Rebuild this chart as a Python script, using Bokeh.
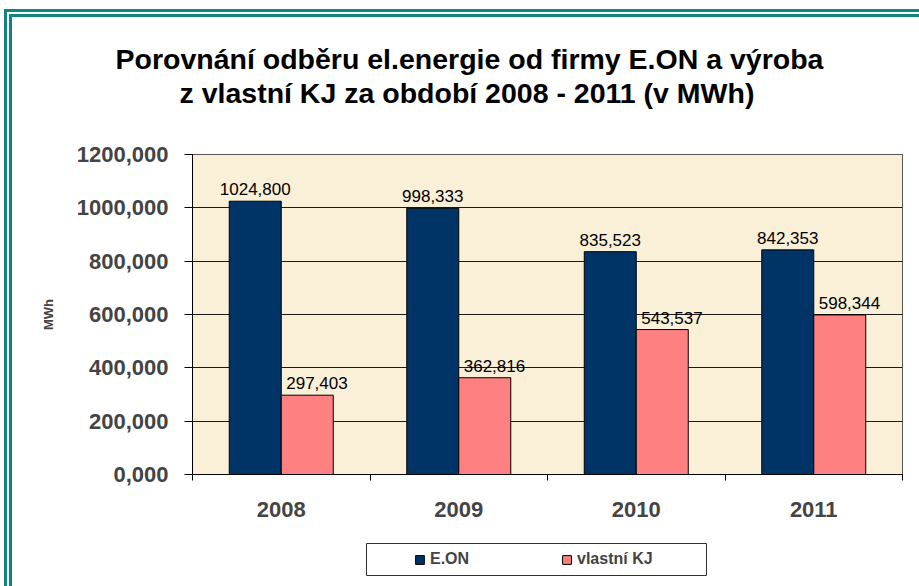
from bokeh.plotting import figure
from bokeh.layouts import column
from bokeh.models import (ColumnDataSource, FixedTicker, LabelSet, Legend,
                          LegendItem, Title)
from bokeh.core.properties import value
from bokeh.transform import dodge
from bokeh.embed import file_html
from bokeh.resources import INLINE

# ---------------- data ----------------
YEARS = ["2008", "2009", "2010", "2011"]
EON = [1024.800, 998.333, 835.523, 842.353]
KJ = [297.403, 362.816, 543.537, 598.344]
SERIES_NAMES = ["E.ON", "vlastní KJ"]
Y_TICKS = [0, 200, 400, 600, 800, 1000, 1200]
Y_TICK_LABELS = ["0,000", "200,000", "400,000", "600,000", "800,000", "1000,000", "1200,000"]
TITLE_LINES = ["Porovnání odběru el.energie od firmy E.ON a výroba",
               "z vlastní KJ za období 2008 - 2011 (v MWh)"]
Y_LABEL = "MWh"

# ---------------- style / layout ----------------
FONT = "Liberation Sans"
C_EON = "#003366"
C_KJ = "#FF8080"
BG = "#FAEFD7"
TEAL = "#0F8482"

W, H = 919, 530                            # main chart canvas
FL, FR, FT, FB = 192, 902, 154, 474        # frame edges in canvas px
LH = 56                                    # legend strip height
n = len(YEARS)
Y_MAX = Y_TICKS[-1]
PX_X = (FR - FL) / n                        # px per category
BAR_W = 52 / PX_X


def fmt(v):
    return f"{v:.3f}".replace(".", ",")


p = figure(width=W, height=H, x_range=(0, n), y_range=(0, Y_MAX),
           output_backend="svg", toolbar_location=None, title=None,
           min_border_left=FL, min_border_right=W - FR,
           min_border_top=FT, min_border_bottom=H - FB,
           background_fill_color=BG, border_fill_alpha=0)
p.outline_line_color = "#555555"

xs = [i + 0.5 for i in range(n)]
src = ColumnDataSource(dict(x=xs, eon=EON, kj=KJ,
                            eon_lbl=[fmt(v) for v in EON],
                            kj_lbl=[fmt(v) for v in KJ]))

BAR_STYLE = [dict(fill_color=C_EON, line_color="black", line_width=1),
             dict(fill_color=C_KJ, line_color="black", line_width=1)]

r1 = p.vbar(x=dodge("x", -BAR_W / 2), top="eon", width=BAR_W, source=src, **BAR_STYLE[0])
r2 = p.vbar(x=dodge("x", BAR_W / 2), top="kj", width=BAR_W, source=src, **BAR_STYLE[1])

p.add_layout(LabelSet(x=dodge("x", -BAR_W / 2), y="eon", text="eon_lbl", source=src,
                      text_align="center", text_baseline="bottom", y_offset=6,
                      text_font=value(FONT), text_font_size="17px", text_color="black"))
p.add_layout(LabelSet(x="x", y="kj", text="kj_lbl", source=src,
                      text_align="left", text_baseline="bottom", x_offset=5, y_offset=6,
                      text_font=value(FONT), text_font_size="17px", text_color="black"))

# axes
p.yaxis.ticker = FixedTicker(ticks=Y_TICKS, minor_ticks=[])
p.yaxis.major_label_overrides = {t: l for t, l in zip(Y_TICKS, Y_TICK_LABELS)}
p.yaxis.major_tick_out = 8
p.yaxis.major_tick_in = 0
p.yaxis.major_label_standoff = 16
p.yaxis.major_label_text_font = FONT
p.yaxis.major_label_text_font_style = "bold"
p.yaxis.major_label_text_font_size = "22px"
p.yaxis.axis_line_color = "black"
p.yaxis.major_tick_line_color = "black"
p.yaxis.axis_label = Y_LABEL
p.yaxis.axis_label_text_font = FONT
p.yaxis.axis_label_text_font_style = "bold"
p.yaxis.axis_label_text_font_size = "13px"
p.yaxis.axis_label_standoff = 18

p.xaxis.ticker = FixedTicker(ticks=xs, minor_ticks=list(range(n + 1)))
p.xaxis.major_label_overrides = {x: y for x, y in zip(xs, YEARS)}
p.xaxis.major_tick_out = 0
p.xaxis.major_tick_in = 0
p.xaxis.minor_tick_out = 6
p.xaxis.minor_tick_in = 0
p.xaxis.minor_tick_line_color = "black"
p.xaxis.major_label_standoff = 21
p.xaxis.major_label_text_font = FONT
p.xaxis.major_label_text_font_style = "bold"
p.xaxis.major_label_text_font_size = "22px"
p.xaxis.axis_line_color = "black"

p.xgrid.visible = False
p.ygrid.ticker = FixedTicker(ticks=Y_TICKS, minor_ticks=[])
p.ygrid.grid_line_color = "#1a1a1a"
p.ygrid.grid_line_width = 1

# title lines (the one added first sits closest to the frame);
# the first entry is a blank spacer that keeps the title away from the frame
p.add_layout(Title(text=" ", standoff=0, text_font=FONT, text_font_size="40px"), "above")
TITLE_OFFSETS = [-77, -13]
for txt, off in reversed(list(zip(TITLE_LINES, TITLE_OFFSETS))):
    p.add_layout(Title(text=txt, align="left", offset=off, standoff=0,
                       text_font=FONT, text_font_style="bold",
                       text_font_size="28.5px", text_color="black"), "above")

# ---------------- legend strip (separate small figure under the chart) ----------------
# its frame lines up with the chart frame, x in page pixels
lf = figure(width=W, height=LH, x_range=(FL, FR), y_range=(0, LH),
            output_backend="svg", toolbar_location=None, title=None,
            x_axis_location=None, y_axis_location=None,
            min_border=0, outline_line_color=None, border_fill_alpha=0,
            background_fill_alpha=0)
lf.xgrid.visible = False
lf.ygrid.visible = False
# legend frame box
lf.quad(left=[366], right=[706], bottom=[11], top=[43],
        fill_color="white", line_color="#333333", line_width=1)
# legend swatches come from the same series styles (hidden renderers, swatch only)
d1 = lf.vbar(x=dodge("x", -BAR_W / 2), top="eon", width=BAR_W, source=src,
             visible=False, **BAR_STYLE[0])
d2 = lf.vbar(x=dodge("x", BAR_W / 2), top="kj", width=BAR_W, source=src,
             visible=False, **BAR_STYLE[1])
legend = Legend(items=[LegendItem(label=SERIES_NAMES[0], renderers=[d1]),
                       LegendItem(label=SERIES_NAMES[1], renderers=[d2])],
                orientation="horizontal", location=(215, 11), margin=0,
                glyph_width=11, glyph_height=11, label_standoff=5, spacing=0,
                label_width=131, padding=7, border_line_alpha=0,
                background_fill_alpha=0, label_text_font=FONT,
                label_text_font_style="bold", label_text_font_size="16px",
                click_policy="none")
lf.add_layout(legend)

shadow = (f"inset 4px 9px 0 0 white, inset 7px 12px 0 0 {TEAL}, "
          f"inset 9px 14px 0 0 white, inset 12px 17px 0 0 {TEAL}")
layout = column(p, lf, spacing=0, styles={"box-shadow": shadow})

open("out.html", "w").write(file_html(layout, INLINE))
